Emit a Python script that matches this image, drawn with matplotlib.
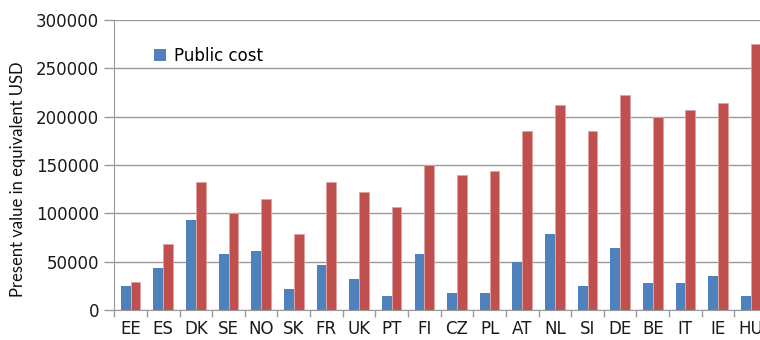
import matplotlib
matplotlib.use("Agg")
import matplotlib.pyplot as plt
import numpy as np

# cost per country, present value in equivalent USD
countries = ["EE", "ES", "DK", "SE", "NO", "SK", "FR", "UK", "PT", "FI",
             "CZ", "PL", "AT", "NL", "SI", "DE", "BE", "IT", "IE", "HU"]
public_cost = [25000, 43500, 93000, 57500, 61000, 22000, 46500, 32000, 14000, 57500,
               18000, 18000, 50000, 78500, 24500, 64000, 28000, 28000, 35500, 14000]
private_cost = [28500, 68000, 132000, 100500, 114500, 79000, 132000, 122000, 107000, 150000,
                139500, 143500, 185000, 212500, 185000, 222500, 200000, 207000, 214000, 275000]
yticks = [0, 50000, 100000, 150000, 200000, 250000, 300000]

blue = "#4F81BD"
red = "#C0504D"
grid_col = "#9a9a9a"

fig = plt.figure(figsize=(7.6, 3.4), dpi=100)
ax = fig.add_axes([0.1504, 0.0882, 0.8588, 0.853])

x = np.arange(len(countries))
width = 0.3
ax.bar(x - width / 2, public_cost, width, color=blue, label="Public cost", zorder=3)
ax.bar(x + width / 2, private_cost, width, color=red, edgecolor="#dca3a1",
       linewidth=0.6, label="_nolegend_", zorder=3)

ax.set_xlim(-0.5, len(countries) - 0.5)
ax.set_ylim(0, 300000)
ax.set_yticks(yticks)
ax.set_yticklabels([str(v) for v in yticks])
ax.yaxis.grid(True, color=grid_col, linewidth=1.0, zorder=0)

# category labels at centres, tick marks between categories
ax.set_xticks(x)
ax.set_xticklabels(countries)
ax.set_xticks(np.arange(-0.5, len(countries), 1.0), minor=True)
ax.tick_params(axis="x", which="major", length=0, pad=7, labelsize=12, labelcolor="#1a1a1a")
ax.tick_params(axis="x", which="minor", length=5, width=1, color=grid_col)
ax.tick_params(axis="y", length=7, width=1, color=grid_col, labelsize=12,
               labelcolor="#1a1a1a", pad=4)

for side in ["top", "right"]:
    ax.spines[side].set_visible(False)
ax.spines["left"].set_color(grid_col)
ax.spines["bottom"].set_color(grid_col)

ax.set_ylabel("Present value in equivalent USD", fontsize=12, family="Lato",
              color="#111111")
ax.yaxis.set_label_coords(-0.135, 0.45)

ax.legend(loc="upper left", bbox_to_anchor=(0.038, 0.96), frameon=False,
          fontsize=12, handlelength=0.7, handleheight=0.7, handletextpad=0.5)

fig.savefig("out.png", dpi=100)
